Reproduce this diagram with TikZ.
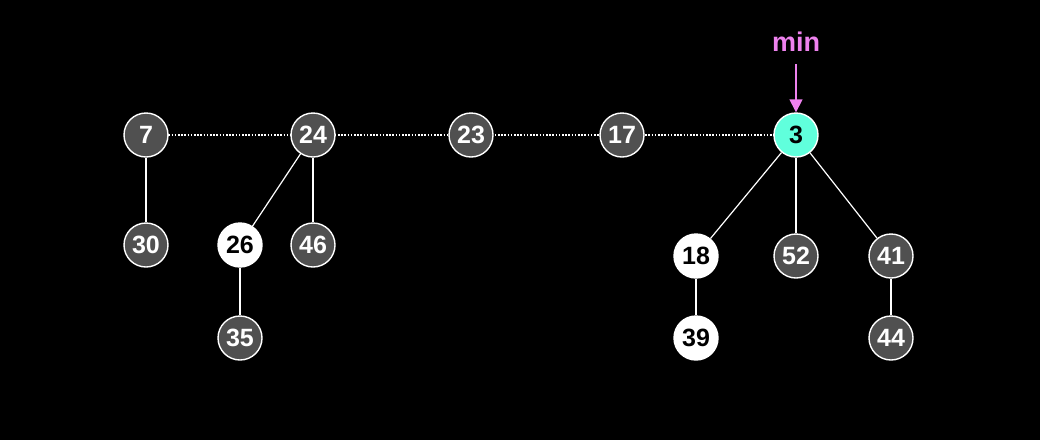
\documentclass[tikz,border=0pt]{standalone}
\usepackage{fontspec}
\setmainfont{Liberation Sans}
\usetikzlibrary{arrows.meta}
\definecolor{nodegray}{RGB}{80,80,80}
\definecolor{minpink}{RGB}{238,130,238}
\definecolor{mincyan}{RGB}{96,255,220}
\begin{document}
\begin{tikzpicture}[x=1pt,y=-1pt,
  hn/.style={circle,draw=white,line width=1.4pt,fill=nodegray,text=white,minimum size=44pt,inner sep=0pt,font=\fontsize{25}{25}\selectfont\bfseries},
  marked/.style={fill=white,text=black},
  minnode/.style={fill=mincyan,text=black},
  edge/.style={draw=white,line width=1.2pt},
  rootlink/.style={draw=white,line width=1.2pt,dash pattern=on 1.6pt off 1.6pt}]
\fill[black] (0,0) rectangle (1040,440);
\useasboundingbox (0,0) rectangle (1040,440);
% links between roots
\coordinate (c7) at (146,135);
\coordinate (c24) at (313,135);
\coordinate (c23) at (471,135);
\coordinate (c17) at (622,135);
\coordinate (c3) at (796,135);
\draw[rootlink] (c7) -- (c24) -- (c23) -- (c17) -- (c3);
\node[hn] (n7) at (c7) {7};
\node[hn] (n24) at (c24) {24};
\node[hn] (n23) at (c23) {23};
\node[hn] (n17) at (c17) {17};
\node[hn,minnode] (n3) at (c3) {3};
\node[hn] (n30) at (146,245) {30};
\node[hn,marked] (n26) at (240,245) {26};
\node[hn] (n46) at (313,245) {46};
\node[hn] (n35) at (240,338) {35};
\node[hn,marked] (n18) at (696,256) {18};
\node[hn] (n52) at (796,256) {52};
\node[hn] (n41) at (891,256) {41};
\node[hn,marked] (n39) at (696,338) {39};
\node[hn] (n44) at (891,338) {44};
\draw[edge] (n7) -- (n30);
\draw[edge] (n24) -- (n26);
\draw[edge] (n24) -- (n46);
\draw[edge] (n26) -- (n35);
\draw[edge] (n3) -- (n18);
\draw[edge] (n3) -- (n52);
\draw[edge] (n3) -- (n41);
\draw[edge] (n18) -- (n39);
\draw[edge] (n41) -- (n44);
\node[text=minpink,font=\fontsize{27}{27}\selectfont\bfseries] (minlabel) at (796,42) {min};
\coordinate (arrowstart) at (796,64);
\draw[minpink,line width=1.4pt,-{Triangle[length=13pt,width=13pt]}] (arrowstart) -- (n3);
\end{tikzpicture}
\end{document}
